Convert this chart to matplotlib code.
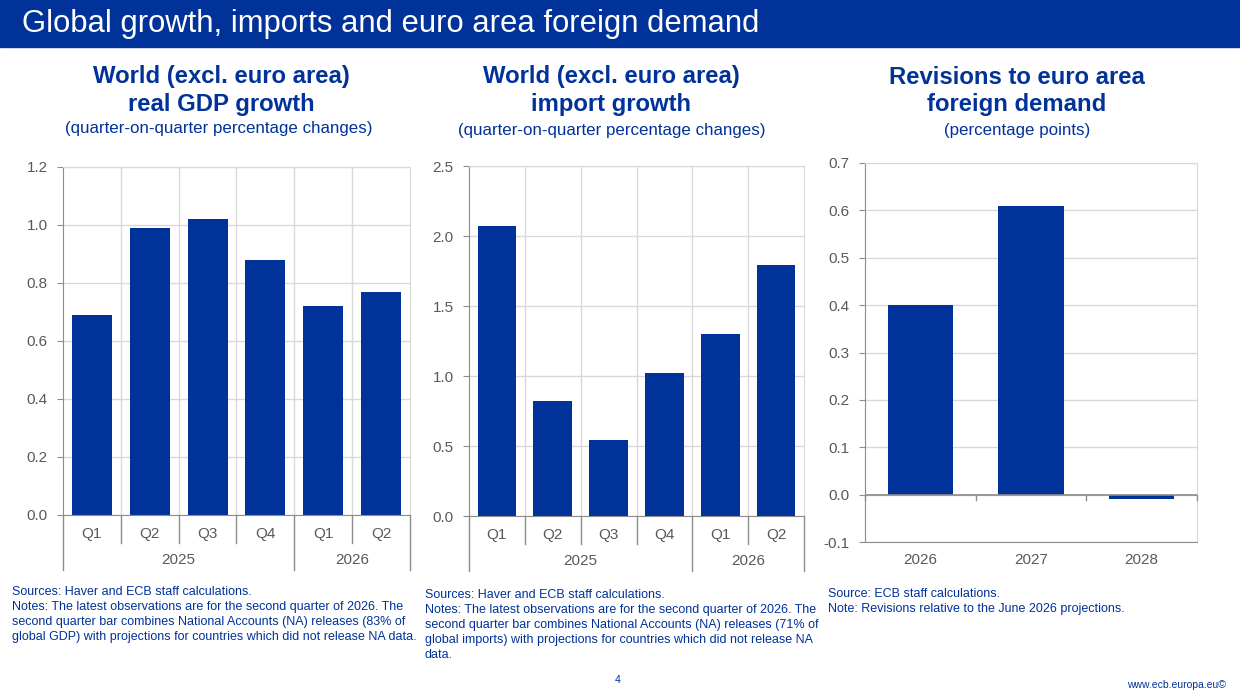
import numpy as np
import matplotlib.pyplot as plt
import matplotlib.transforms as mtransforms
from matplotlib.patches import Rectangle

plt.rcParams['font.family'] = ['Liberation Sans', 'DejaVu Sans']

W, H = 1240, 697
ecb_blue = '#003299'
grid_col = '#d9d9d9'
axis_col = '#8c8c8c'
label_col = '#595959'

# data
quarters = ['Q1', 'Q2', 'Q3', 'Q4', 'Q1', 'Q2']
years = ['2025', '2026']
year_spans = [4, 2]
gdp_growth = [0.69, 0.99, 1.02, 0.88, 0.72, 0.77]
import_growth = [2.07, 0.82, 0.54, 1.02, 1.30, 1.79]
rev_years = ['2026', '2027', '2028']
revisions = [0.40, 0.61, -0.01]

fig = plt.figure(figsize=(W / 100, H / 100), dpi=100)


def px_axes(x0, y0, x1, y1):
    # pixel box (top-left origin) -> figure axes
    return fig.add_axes([x0 / W, 1 - y1 / H, (x1 - x0) / W, (y1 - y0) / H])


def ftext(x, y, s, **kw):
    fig.text(x / W, 1 - y / H, s, **kw)


# header bar
fig.patches.append(Rectangle((0, 1 - 47 / H), 1, 47 / H, transform=fig.transFigure,
                             color=ecb_blue, zorder=0))
ftext(22, 24, 'Global growth, imports and euro area foreign demand', color='white',
      fontsize=22.3, va='center', ha='left')


def style_axes(ax):
    ax.set_facecolor('white')
    for s in ['top', 'right']:
        ax.spines[s].set_color(grid_col)
    ax.spines['left'].set_color(axis_col)
    ax.spines['bottom'].set_color(axis_col)
    ax.grid(axis='y', color=grid_col, lw=1)
    ax.grid(axis='x', which='minor', color=grid_col, lw=1)
    ax.set_axisbelow(True)
    ax.tick_params(axis='y', colors=axis_col, labelcolor=label_col, labelsize=11,
                   length=4, direction='out', pad=7)
    ax.tick_params(axis='x', which='both', length=0, labelbottom=False)


def quarter_chart(box, values, ylim, yticks, fmt):
    ax = px_axes(*box)
    n = len(values)
    idx = np.arange(n)
    ax.bar(idx, values, width=0.69, color=ecb_blue, zorder=2)
    ax.set_xlim(-0.5, n - 0.5)
    ax.set_ylim(*ylim)
    ax.set_yticks(yticks)
    ax.set_yticklabels([fmt.format(t) for t in yticks])
    ax.set_xticks(idx[:-1] + 0.5, minor=True)
    style_axes(ax)
    hpx = box[3] - box[1]
    tr = mtransforms.blended_transform_factory(ax.transData, ax.transAxes)
    q_depth = -28 / hpx
    y_depth = -55 / hpx
    for i, q in enumerate(quarters):
        ax.text(i, -19 / hpx, q, transform=tr, ha='center', va='center',
                fontsize=11, color=label_col)
    # separators under the axis
    bounds = np.arange(n + 1) - 0.5
    year_edges = np.cumsum([0] + year_spans) - 0.5
    for b in bounds:
        depth = y_depth if b in year_edges else q_depth
        ax.plot([b, b], [0, depth], transform=tr, color=axis_col, lw=1, clip_on=False)
    for k, yr in enumerate(years):
        mid = (year_edges[k] + year_edges[k + 1]) / 2
        ax.text(mid, -45 / hpx, yr, transform=tr, ha='center', va='center',
                fontsize=11, color=label_col)
    return ax


quarter_chart((63, 167, 410, 515), gdp_growth, (0, 1.2),
              np.round(np.arange(0, 1.21, 0.2), 1), '{:.1f}')
quarter_chart((469, 166, 804, 516), import_growth, (0, 2.5),
              np.round(np.arange(0, 2.51, 0.5), 1), '{:.1f}')

# revisions chart
ax3 = px_axes(865, 163, 1197, 542)
idx3 = np.arange(len(revisions))
ax3.bar(idx3, revisions, width=0.59, color=ecb_blue, zorder=2)
ax3.set_xlim(-0.5, len(revisions) - 0.5)
ax3.set_ylim(-0.1, 0.7)
yt3 = np.round(np.arange(-0.1, 0.71, 0.1), 1)
ax3.set_yticks(yt3)
ax3.set_yticklabels(['{:.1f}'.format(t) for t in yt3])
ax3.set_xticks(idx3[:-1] + 0.5, minor=True)
style_axes(ax3)
ax3.axhline(0, color=axis_col, lw=1.2, zorder=3)
tr3 = mtransforms.blended_transform_factory(ax3.transData, ax3.transAxes)
h3 = 542 - 163
for b in np.arange(len(revisions) + 1) - 0.5:
    ax3.plot([b, b], [0, -0.012], color=axis_col, lw=1, zorder=3, clip_on=False)
for i, yr in enumerate(rev_years):
    ax3.text(i, -18 / h3, yr, transform=tr3, ha='center', va='center',
             fontsize=11, color=label_col)

# panel titles
title_kw = dict(color=ecb_blue, fontsize=17.2, fontweight='bold', ha='center', va='center')
sub_kw = dict(color=ecb_blue, fontsize=12.2, ha='center', va='center')
ftext(221, 76, 'World (excl. euro area)', **title_kw)
ftext(221, 104, 'real GDP growth', **title_kw)
ftext(219, 128, '(quarter-on-quarter percentage changes)', **sub_kw)
ftext(611, 77, 'World (excl. euro area)', **title_kw)
ftext(611, 105, 'import growth', **title_kw)
ftext(612, 131, '(quarter-on-quarter percentage changes)', **sub_kw)
ftext(1017, 77, 'Revisions to euro area', **title_kw)
ftext(1017, 105, 'foreign demand', **title_kw)
ftext(1017, 131, '(percentage points)', **sub_kw)

# notes
note_kw = dict(color=ecb_blue, fontsize=9, ha='left', va='center')
notes1 = ['Sources: Haver and ECB staff calculations.',
          'Notes: The latest observations are for the second quarter of 2026. The',
          'second quarter bar combines National Accounts (NA) releases (83% of',
          'global GDP) with projections for countries which did not release NA data.']
notes2 = ['Sources: Haver and ECB staff calculations.',
          'Notes: The latest observations are for the second quarter of 2026. The',
          'second quarter bar combines National Accounts (NA) releases (71% of',
          'global imports) with projections for countries which did not release NA',
          'data.']
notes3 = ['Source: ECB staff calculations.',
          'Note: Revisions relative to the June 2026 projections.']
for x0, y0, lines in [(12, 592, notes1), (425, 595, notes2), (828, 594, notes3)]:
    for k, line in enumerate(lines):
        ftext(x0, y0 + k * 15, line, **note_kw)

ftext(618, 680, '4', color=ecb_blue, fontsize=7.5, ha='center', va='center')
ftext(1226, 685, 'www.ecb.europa.eu\u00a9', color=ecb_blue, fontsize=7.5, ha='right', va='center')

fig.savefig('out.png', dpi=100)
